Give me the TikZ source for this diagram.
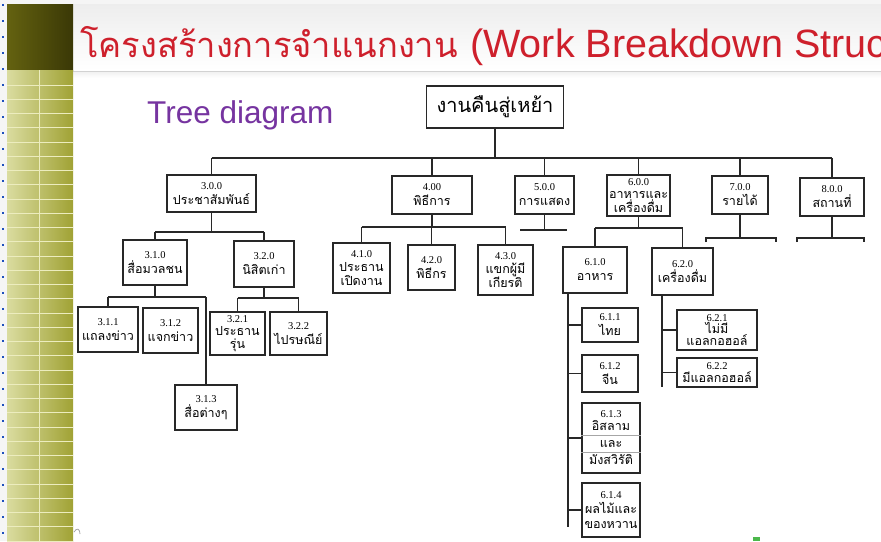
\documentclass[tikz,border=0pt]{standalone}
\usepackage{fontspec}
\setmainfont{Liberation Serif}
\newfontfamily\thai[Script=Thai]{Loma}
\newfontfamily\lsans{Liberation Sans}
\definecolor{titlered}{RGB}{206,32,44}
\definecolor{treepurple}{RGB}{118,52,160}
\definecolor{olivedark}{RGB}{100,98,16}
\definecolor{olivedarker}{RGB}{58,56,6}
\definecolor{oliveleft}{RGB}{218,220,160}
\definecolor{oliveright}{RGB}{160,162,52}
\definecolor{stripe}{RGB}{236,236,190}
\definecolor{dotblue}{RGB}{30,80,190}
\definecolor{inkline}{RGB}{40,40,40}
\tikzset{
  wbs/.style={draw=inkline, line width=1.2pt, fill=white, inner sep=0pt, align=center,
    font=\fontsize{10.5}{15}\selectfont},
  ln/.style={draw=inkline, line width=1.2pt}
}
\newcommand{\tht}[1]{{\thai\fontsize{12.5}{15}\selectfont #1}}
\begin{document}
\begin{tikzpicture}[x=1pt,y=-1pt]
\useasboundingbox (0,0) rectangle (881,541);
\begin{scope}
\clip (0,0) rectangle (881,541);
% backgrounds
\fill[gray!8] (0,0) rectangle (881,541);
\fill[white] (73,70) rectangle (881,541);
\shade[top color=gray!14, bottom color=white] (73,4) rectangle (881,70);
\draw[gray!35, line width=1pt] (73,71) -- (881,71);
\shade[top color=gray!10, bottom color=white] (73,72) rectangle (881,78);
% sidebar
\shade[left color=olivedark, right color=olivedarker] (7,4) rectangle (73,70);
\shade[left color=oliveleft, right color=oliveright] (7,70) rectangle (73,541);
\foreach \k in {0,...,32} \draw[stripe, line width=0.8pt] (7,85+14.25*\k) -- (73,85+14.25*\k);
\draw[stripe, line width=0.8pt] (39,70) -- (39,541);
\foreach \k in {0,...,33} \fill[dotblue] (2,4+16*\k) rectangle ++(2,2);
% title
\node[anchor=base west, inner sep=0pt, text=titlered, font=\thai\fontsize{34.5}{40}\selectfont] (title) at (80,57) {โครงสร้างการจำแนกงาน};
\node[anchor=base west, inner sep=0pt, text=titlered, font=\lsans\fontsize{39.5}{42}\selectfont] (titlelat) at (470,57) {(Work Breakdown Struc};
\node[anchor=base west, inner sep=0pt, text=treepurple, font=\lsans\fontsize{31.5}{34}\selectfont] (treelabel) at (147,123) {Tree diagram};
% bottom marks
\draw[gray!70, line width=0.8pt] (74,532) .. controls (77,527) and (80,529) .. (80,534);
\fill[green!60!black!70] (753,537) rectangle (760,541);
\end{scope}

% ---------- tree nodes ----------
\node[wbs, minimum width=137pt, minimum height=42pt] (root) at (495,107) {\tht{\fontsize{20}{22}\selectfont งานคืนสู่เหย้า}};

\node[wbs, minimum width=89pt, minimum height=37pt] (n3) at (211.5,193.5) {3.0.0\\\tht{ประชาสัมพันธ์}};
\node[wbs, minimum width=80pt, minimum height=38pt] (n4) at (432,195) {4.00\\\tht{พิธีการ}};
\node[wbs, minimum width=59pt, minimum height=38pt] (n5) at (544.5,195) {5.0.0\\\tht{การแสดง}};
\node[wbs, minimum width=63pt, minimum height=41pt, font=\fontsize{10.5}{12.5}\selectfont] (n6) at (638.5,195.5) {6.0.0\\\tht{อาหารและ}\\\tht{เครื่องดื่ม}};
\node[wbs, minimum width=56pt, minimum height=38pt] (n7) at (740,195) {7.0.0\\\tht{รายได้}};
\node[wbs, minimum width=64pt, minimum height=38pt] (n8) at (832,197) {8.0.0\\\tht{สถานที่}};

\node[wbs, minimum width=64pt, minimum height=45pt] (n31) at (155,262.5) {3.1.0\\\tht{สื่อมวลชน}};
\node[wbs, minimum width=60pt, minimum height=46pt] (n32) at (264,264) {3.2.0\\\tht{นิสิตเก่า}};
\node[wbs, minimum width=60pt, minimum height=45pt] (n311) at (108,329.5) {3.1.1\\\tht{แถลงข่าว}};
\node[wbs, minimum width=55pt, minimum height=45pt] (n312) at (170.5,330.5) {3.1.2\\\tht{แจกข่าว}};
\node[wbs, minimum width=62pt, minimum height=45pt] (n313) at (206,407.5) {3.1.3\\\tht{สื่อต่างๆ}};
\node[wbs, minimum width=55pt, minimum height=43pt, font=\fontsize{10.5}{13}\selectfont] (n321) at (237.5,333.5) {3.2.1\\\tht{ประธาน}\\\tht{รุ่น}};
\node[wbs, minimum width=57pt, minimum height=43pt] (n322) at (298.5,333.5) {3.2.2\\\tht{ไปรษณีย์}};

\node[wbs, minimum width=57pt, minimum height=50pt, font=\fontsize{10.5}{14}\selectfont] (n41) at (361.5,268) {4.1.0\\\tht{ประธาน}\\\tht{เปิดงาน}};
\node[wbs, minimum width=47pt, minimum height=45pt] (n42) at (431.5,267.5) {4.2.0\\\tht{พิธีกร}};
\node[wbs, minimum width=55pt, minimum height=50pt, font=\fontsize{10.5}{14}\selectfont] (n43) at (505.5,270) {4.3.0\\\tht{แขกผู้มี}\\\tht{เกียรติ}};

\node[wbs, minimum width=64pt, minimum height=46pt] (n61) at (595,270) {6.1.0\\\tht{อาหาร}};
\node[wbs, minimum width=61pt, minimum height=47pt] (n62) at (682.5,271.5) {6.2.0\\\tht{เครื่องดื่ม}};
\node[wbs, minimum width=56pt, minimum height=34pt] (n611) at (610,325) {6.1.1\\\tht{ไทย}};
\node[wbs, minimum width=56pt, minimum height=37pt] (n612) at (610,373.5) {6.1.2\\\tht{จีน}};
\node[wbs, minimum width=58pt, minimum height=70pt, font=\fontsize{10.5}{17}\selectfont] (n613) at (611,438) {6.1.3\\[-4pt]\tht{อิสลาม}\\\tht{และ}\\\tht{มังสวิรัติ}};
\node[wbs, minimum width=58pt, minimum height=54pt, font=\fontsize{10.5}{15}\selectfont] (n614) at (611,510) {6.1.4\\\tht{ผลไม้และ}\\\tht{ของหวาน}};
\node[wbs, minimum width=80pt, minimum height=40pt, font=\fontsize{10.5}{12}\selectfont] (n621) at (717,330) {6.2.1\\\tht{ไม่มี}\\\tht{แอลกอฮอล์}};
\node[wbs, minimum width=80pt, minimum height=29pt, font=\fontsize{10.5}{13}\selectfont] (n622) at (717,372.5) {6.2.2\\\tht{มีแอลกอฮอล์}};
\draw[gray!70, line width=0.6pt] ([yshift=3pt]n613.west) -- ([yshift=3pt]n613.east);
\draw[gray!70, line width=0.6pt] ([yshift=-14pt]n613.west) -- ([yshift=-14pt]n613.east);

% ---------- connectors ----------
\coordinate (bus) at (0,158);
\draw[ln] (root.south) -- (root.south |- bus);
\draw[ln] (n3.north |- bus) -- (n8.north |- bus);
\foreach \n in {n3,n4,n5,n6,n7,n8} \draw[ln] (\n.north) -- (\n.north |- bus);

\coordinate (b3) at (0,232);
\draw[ln] (n3.south) -- (n3.south |- b3);
\draw[ln] (n31.north |- b3) -- (n32.north |- b3);
\foreach \n in {n31,n32} \draw[ln] (\n.north) -- (\n.north |- b3);

\coordinate (b31) at (0,297);
\draw[ln] (n31.south) -- (n31.south |- b31);
\draw[ln] (n311.north |- b31) -- (n313.north |- b31);
\foreach \n in {n311,n313} \draw[ln] (\n.north) -- (\n.north |- b31);

\coordinate (b32) at (0,298);
\draw[ln] (n32.south) -- (n32.south |- b32);
\draw[ln] (n321.north |- b32) -- (n322.north |- b32);
\foreach \n in {n321,n322} \draw[ln] (\n.north) -- (\n.north |- b32);

\coordinate (b4) at (0,227);
\draw[ln] (n4.south) -- (n4.south |- b4);
\draw[ln] (n41.north |- b4) -- (n43.north |- b4);
\foreach \n in {n41,n42,n43} \draw[ln] (\n.north) -- (\n.north |- b4);

\coordinate (s5l) at (520,230);
\coordinate (s5r) at (567,230);
\draw[ln] (n5.south) -- (n5.south |- s5l);
\draw[ln] (s5l) -- (s5r);

\coordinate (s7l) at (706,238);
\coordinate (s7r) at (776,238);
\draw[ln] (n7.south) -- (n7.south |- s7l);
\draw[ln] ([yshift=-4pt]s7l) -- (s7l) -- (s7r) -- ([yshift=-4pt]s7r);

\coordinate (s8l) at (797,238);
\coordinate (s8r) at (864,238);
\draw[ln] (n8.south) -- (n8.south |- s8l);
\draw[ln] ([yshift=-4pt]s8l) -- (s8l) -- (s8r) -- ([yshift=-4pt]s8r);

\coordinate (b6) at (0,228);
\draw[ln] (n6.south) -- (n6.south |- b6);
\draw[ln] (n61.north |- b6) -- (n62.north |- b6);
\foreach \n in {n61,n62} \draw[ln] (\n.north) -- (\n.north |- b6);

\coordinate (sp61) at (568,527);
\draw[ln] (n61.south -| sp61) -- (sp61);
\foreach \n in {n611,n612,n613,n614} \draw[ln] (\n.west -| sp61) -- (\n.west);

\coordinate (sp62) at (662,387);
\draw[ln] (n62.south -| sp62) -- (sp62);
\foreach \n in {n621,n622} \draw[ln] (\n.west -| sp62) -- (\n.west);
\end{tikzpicture}
\end{document}
